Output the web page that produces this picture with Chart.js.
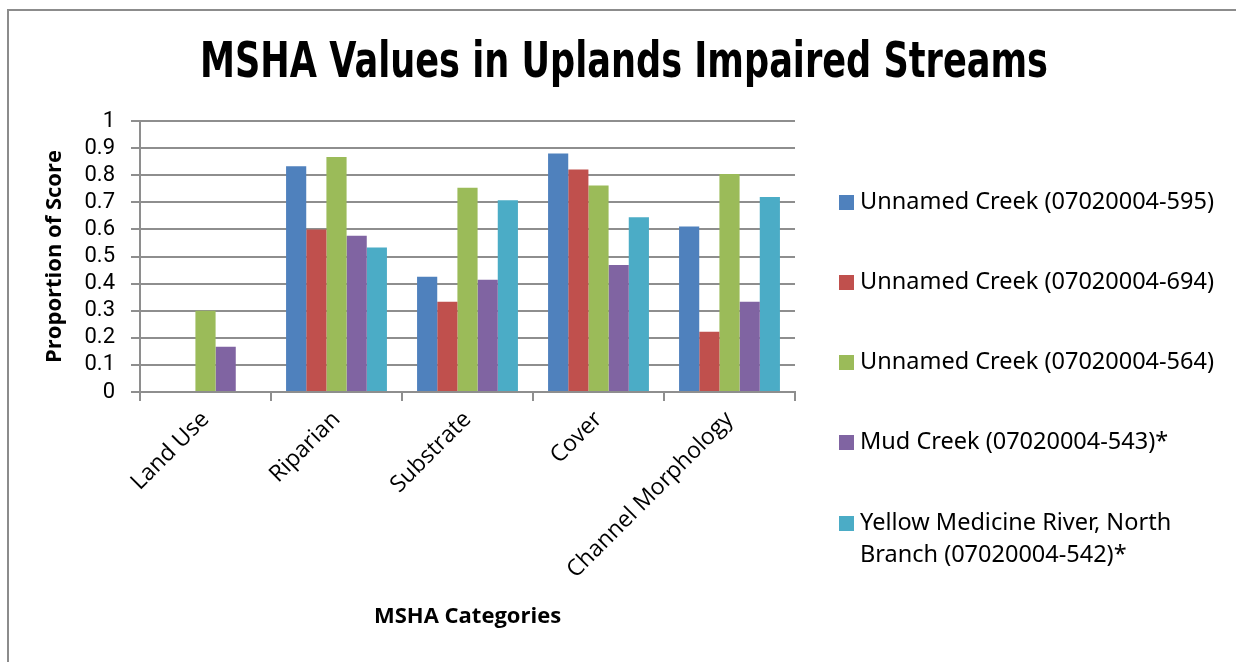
<!DOCTYPE html>
<html>
<head>
<meta charset="utf-8">
<title>MSHA Values in Uplands Impaired Streams</title>
<script src="https://cdn.jsdelivr.net/npm/chart.js@4.4.1/dist/chart.umd.min.js"></script>
<style>
  html, body { margin: 0; padding: 0; background: #fff; }
  #wrap { position: relative; width: 1236px; height: 662px; }
  #frame { position: absolute; left: 7px; top: 9px; right: 0; bottom: 0;
           border-top: 2px solid #8c8c8c; border-left: 2px solid #8c8c8c; }
  #chart { position: absolute; left: 0; top: 0; }
</style>
</head>
<body>
<div id="wrap">
  <div id="frame"></div>
  <canvas id="chart" width="1236" height="662"></canvas>
</div>
<script>
const chartTitle = 'MSHA Values in Uplands Impaired Streams';
const categories = ['Land Use', 'Riparian', 'Substrate', 'Cover', 'Channel Morphology'];

const creek595 = [0, 0.833, 0.425, 0.88, 0.611];
const creek694 = [0, 0.60, 0.333, 0.821, 0.222];
const creek564 = [0.30, 0.867, 0.754, 0.762, 0.804];
const mudCreek543 = [0.167, 0.577, 0.414, 0.469, 0.333];
const yellowMedicine542 = [0, 0.533, 0.708, 0.645, 0.72];

const seriesNames = [
  ['Unnamed Creek (07020004-595)'],
  ['Unnamed Creek (07020004-694)'],
  ['Unnamed Creek (07020004-564)'],
  ['Mud Creek (07020004-543)*'],
  ['Yellow Medicine River, North', 'Branch (07020004-542)*']
];
const seriesColors = ['#4F81BD', '#C0504D', '#9BBB59', '#8064A2', '#4BACC6'];
const seriesValues = [creek595, creek694, creek564, mudCreek543, yellowMedicine542];

const yTicks = [0, 0.1, 0.2, 0.3, 0.4, 0.5, 0.6, 0.7, 0.8, 0.9, 1];

const gridColor = '#8e8e8e';
const xTickFont = { family: '"Open Sans", sans-serif', size: 23 };
const yTickFont = { family: 'Roboto, "Open Sans", sans-serif', size: 22 };
const axisTitleFont = { family: '"Open Sans", sans-serif', size: 22, weight: 'bold' };

// title over the whole canvas and the legend on the right, with wide item spacing
const decorations = {
  id: 'decorations',
  afterDraw(chart) {
    const ctx = chart.ctx;
    ctx.save();
    ctx.fillStyle = '#000';
    ctx.textAlign = 'center';
    ctx.textBaseline = 'alphabetic';
    ctx.font = 'bold 50px "DejaVu Sans", sans-serif';
    // squeeze to the condensed width of the heading
    ctx.fillText(chartTitle, 624, 77, 848);

    const rows = [202, 282, 362, 442, 523];
    ctx.textAlign = 'left';
    ctx.textBaseline = 'middle';
    ctx.font = '23.5px "Noto Sans", sans-serif';
    chart.data.datasets.forEach((ds, i) => {
      const y = rows[i];
      ctx.fillStyle = ds.backgroundColor;
      ctx.fillRect(839, y - 7, 15, 15);
      ctx.fillStyle = '#000';
      seriesNames[i].forEach((line, j) => ctx.fillText(line, 860, y + j * 32));
    });
    ctx.restore();
  }
};

new Chart(document.getElementById('chart'), {
  type: 'bar',
  data: {
    labels: categories,
    datasets: seriesValues.map((vals, i) => ({
      label: seriesNames[i].join(' '),
      data: vals,
      backgroundColor: seriesColors[i],
      borderWidth: 0,
      categoryPercentage: 0.77,
      barPercentage: 1
    }))
  },
  options: {
    responsive: false,
    animation: false,
    layout: { padding: { left: 0, top: 121, right: 1236 - 795, bottom: 0 } },
    plugins: {
      legend: { display: false },
      tooltip: { enabled: false },
      title: { display: false }
    },
    scales: {
      x: {
        grid: { display: true, drawOnChartArea: false, color: gridColor, lineWidth: 2, tickLength: 9, offset: true },
        border: { color: gridColor, width: 2 },
        ticks: { color: '#000', font: xTickFont, maxRotation: 45, minRotation: 45, padding: 5 },
        title: { display: true, text: 'MSHA Categories', color: '#000', font: axisTitleFont, padding: { top: 32, bottom: 32 } },
        afterFit(s) { s.height = 662 - 392; }
      },
      y: {
        min: 0,
        max: 1,
        afterBuildTicks(s) { s.ticks = yTicks.map(v => ({ value: v })); },
        grid: { color: gridColor, lineWidth: 2, tickLength: 9 },
        border: { color: gridColor, width: 2 },
        ticks: { color: '#000', font: yTickFont, padding: 16, autoSkip: false, callback: v => String(v) },
        title: { display: true, text: 'Proportion of Score', color: '#000', font: axisTitleFont, padding: { top: 42, bottom: 0 } },
        afterFit(s) { s.width = 140; }
      }
    }
  },
  plugins: [decorations]
});
</script>
</body>
</html>
